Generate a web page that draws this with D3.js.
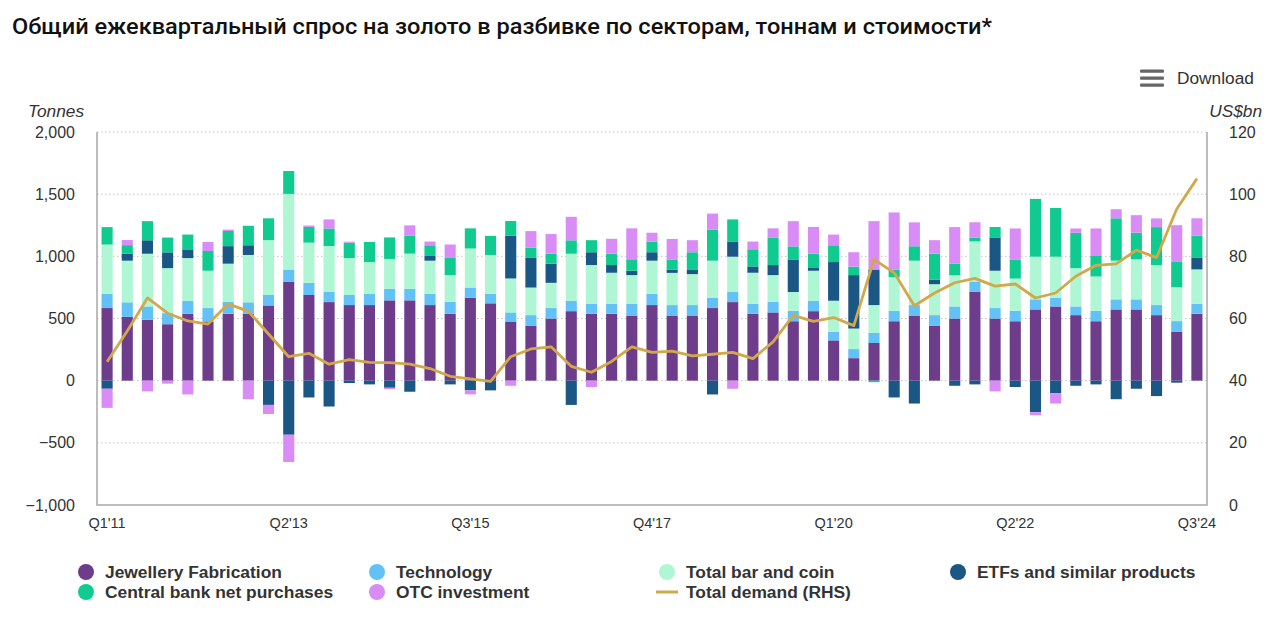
<!DOCTYPE html>
<html><head><meta charset="utf-8">
<script src="https://cdn.jsdelivr.net/npm/d3@7"></script>
<style>
body{margin:0;background:#fff;}
svg{display:block;font-family:"Liberation Sans",Arial,sans-serif;}
</style></head><body>
<svg id="chart" width="1280" height="640"></svg>
<script>
const quarters = ["Q1'11","Q2'11","Q3'11","Q4'11","Q1'12","Q2'12","Q3'12","Q4'12","Q1'13","Q2'13","Q3'13","Q4'13",
"Q1'14","Q2'14","Q3'14","Q4'14","Q1'15","Q2'15","Q3'15","Q4'15","Q1'16","Q2'16","Q3'16","Q4'16",
"Q1'17","Q2'17","Q3'17","Q4'17","Q1'18","Q2'18","Q3'18","Q4'18","Q1'19","Q2'19","Q3'19","Q4'19",
"Q1'20","Q2'20","Q3'20","Q4'20","Q1'21","Q2'21","Q3'21","Q4'21","Q1'22","Q2'22","Q3'22","Q4'22",
"Q1'23","Q2'23","Q3'23","Q4'23","Q1'24","Q2'24","Q3'24"];
const xTickLabels = ["Q1'11","Q2'13","Q3'15","Q4'17","Q1'20","Q2'22","Q3'24"];
const leftTicks = [-1000,-500,0,500,1000,1500,2000];
const rightTicks = [0,20,40,60,80,100,120];

const jewellery = [584,514,489,454,538,476,538,538,605,797,689, 632,608,608,646,646,608,538,668,622,476,443,
 500,559,538,538,524,608,524,524,584,632,538, 549,478,559,324,181,303,478,524,443,500,714,
 500,478,573,597,527,478,573,573,527,395,538];
const technology = [116,116,108,89,105,108,95,92,84,97,97, 81,81,92,92,92,92,95,81,78,73,84,
 84,84,81,81,95,92,84,84,84,81,81, 84,84,84,70,73,81,84,84,84,97,84,
 84,84,81,70,70,84,81,81,81,84,81];
const barCoin = [395,335,424,362,343,300,308,381,441,608,324, 370,297,254,241,284,265,216,314,311,273,222,
 203,378,311,249,230,265,259,249,297,284,249, 216,151,241,249,165,224,270,357,249,251,322,
 300,259,343,330,308,276,311,322,322,273,276];
const etfs = [-65,57,108,127,70,0,141,78,-195,-435,-135, -208,-19,-30,-57,-89,38,-30,-78,-78,343,238,
 154,-195,103,62,35,68,27,38,-111,119,51, 81,262,22,311,430,286,-135,-184,35,-41,-30,
 268,-51,-254,-100,-41,-30,-149,-65,-124,-16,92];
const centralBank = [140,68,154,119,119,159,122,157,176,184,127, 141,124,162,173,143,86,138,162,154,119,84,
 81,108,97,92,92,84,81,138,249,181,138, 222,105,116,135,68,-12,62,116,211,92,32,
 84,154,465,392,284,170,341,214,305,203,178];
const otc = [-154,41,-86,-24,-111,73,11,-149,-73,-219,11, 73,8,0,-11,84,30,108,-32,0,-41,132,
 157,189,-51,119,249,73,165,97,130,-65,62, 73,203,214,86,116,389,459,192,108,295,122,
 -86,249,-24,-84,35,216,73,141,70,295,141];
const totalDemand = [46.1,56,66.6,61.7,59.2,58.2,64.7,62.3,55,47.7,48.8, 45.3,46.8,45.9,45.8,45.3,43.9,41.4,40.6,39.8,47.7,50.2,
 50.9,44.6,42.7,46.2,50.9,49.1,49.5,48.0,48.5,49.1,47.1, 52.5,61.0,59.1,60.3,57.7,79.0,74.7,64.1,68.2,71.5,72.9,
 70.4,71.1,66.6,68.2,73.6,77.1,77.6,82.0,79.6,95.2,105.0];

const seriesKeys = ["jewellery","technology","barCoin","etfs","centralBank","otc"];
const seriesNames = {jewellery:"Jewellery Fabrication",technology:"Technology",barCoin:"Total bar and coin",
 etfs:"ETFs and similar products",centralBank:"Central bank net purchases",otc:"OTC investment"};
const colors = {jewellery:"#6d3d8b",technology:"#62c1f7",barCoin:"#aff6d4",etfs:"#1b5785",centralBank:"#10cb90",otc:"#d98cf6"};
const lineColor = "#d3a84a";

const rows = quarters.map((q,i)=>({q, jewellery:jewellery[i], technology:technology[i], barCoin:barCoin[i],
  etfs:etfs[i], centralBank:centralBank[i], otc:otc[i], total:totalDemand[i]}));

const svg = d3.select("#chart");
const L=97, R=1207, T=132, B=505;
const x = d3.scaleBand().domain(quarters).range([L,R]).paddingInner(0.45).paddingOuter(0.225);
const y = d3.scaleLinear().domain([-1000,2000]).range([B,T]);
const y2 = d3.scaleLinear().domain([0,120]).range([B,T]);

// title
svg.append("text").attr("x",12).attr("y",34).attr("font-size",22).attr("font-weight",500)
  .attr("font-family","Roboto, 'Liberation Sans', Arial, sans-serif").attr("fill","#111")
  .attr("textLength",980).attr("lengthAdjust","spacingAndGlyphs")
  .text("Общий ежеквартальный спрос на золото в разбивке по секторам, тоннам и стоимости*");

// download
const dl = svg.append("g");
[71,78,85].forEach(yy=>dl.append("rect").attr("x",1140).attr("y",yy-1.5).attr("width",24).attr("height",3.2).attr("rx",1).attr("fill","#666"));
dl.append("text").attr("x",1177).attr("y",84).attr("font-size",17.3).attr("fill","#333").text("Download");

// grid
svg.append("g").selectAll("line").data(leftTicks.filter(d=>d>-1000)).join("line")
  .attr("x1",L).attr("x2",R).attr("y1",d=>y(d)).attr("y2",d=>y(d))
  .attr("stroke","#c4c4c4").attr("stroke-width",1).attr("stroke-dasharray","1.5,2.5");

// left axis
const yAxisL = d3.axisLeft(y).tickValues(leftTicks).tickFormat(d3.format(",")).tickSize(0).tickPadding(22);
const gL = svg.append("g").attr("transform",`translate(${L},0)`).call(yAxisL);
gL.select(".domain").remove();
gL.selectAll("text").attr("font-size",16).attr("fill","#333").attr("font-family","'Liberation Sans',Arial,sans-serif");

const yAxisR = d3.axisRight(y2).tickValues(rightTicks).tickSize(0).tickPadding(22);
const gR = svg.append("g").attr("transform",`translate(${R},0)`).call(yAxisR);
gR.select(".domain").remove();
gR.selectAll("text").attr("font-size",16).attr("fill","#333").attr("font-family","'Liberation Sans',Arial,sans-serif");

svg.append("text").attr("x",28).attr("y",117).attr("font-size",17.3).attr("font-style","italic").attr("fill","#333").text("Tonnes");
svg.append("text").attr("x",1262).attr("y",117).attr("text-anchor","end").attr("font-size",17.3).attr("font-style","italic").attr("fill","#333").text("US$bn");

// bars
const stack = d3.stack().keys(seriesKeys).offset(d3.stackOffsetDiverging);
const stacked = stack(rows);
svg.append("g").selectAll("g").data(stacked).join("g").attr("fill",d=>colors[d.key])
  .selectAll("rect").data(d=>d).join("rect")
  .attr("x",d=>x(d.data.q)).attr("width",x.bandwidth())
  .attr("y",d=>y(Math.max(d[0],d[1]))).attr("height",d=>Math.abs(y(d[0])-y(d[1])));

// frame
const frame = svg.append("g").attr("stroke","#a8a8a8").attr("stroke-width",1.5).attr("fill","none");
frame.append("path").attr("d",`M${L},${T}V${B}H${R}V${T}`);

// x axis labels
const gX = svg.append("g").attr("transform",`translate(0,${B})`)
  .call(d3.axisBottom(x).tickValues(xTickLabels).tickSize(0).tickPadding(13));
gX.select(".domain").remove();
gX.selectAll("text").attr("font-size",14.5).attr("fill","#333").attr("font-family","'Liberation Sans',Arial,sans-serif");

// line
const line = d3.line().x(d=>x(d.q)+x.bandwidth()/2).y(d=>y2(d.total));
svg.append("path").datum(rows).attr("d",line).attr("fill","none").attr("stroke",lineColor).attr("stroke-width",2.8).attr("stroke-linejoin","round");

// legend
const legendItems = [
 {k:"jewellery",x:86,y:572},{k:"technology",x:377,y:572},{k:"barCoin",x:667,y:572},{k:"etfs",x:958,y:572},
 {k:"centralBank",x:86,y:592},{k:"otc",x:377,y:592},{k:"line",x:667,y:592}];
const lg = svg.append("g");
legendItems.forEach(it=>{
  if(it.k==="line"){
    lg.append("line").attr("x1",it.x-11).attr("x2",it.x+11).attr("y1",it.y).attr("y2",it.y).attr("stroke",lineColor).attr("stroke-width",3);
  } else {
    lg.append("circle").attr("cx",it.x).attr("cy",it.y).attr("r",8).attr("fill",colors[it.k]);
  }
  lg.append("text").attr("x",it.x+19).attr("y",it.y+6).attr("font-size",17.4).attr("font-weight","bold").attr("fill","#333")
    .text(it.k==="line"?"Total demand (RHS)":seriesNames[it.k]);
});
</script></body></html>
